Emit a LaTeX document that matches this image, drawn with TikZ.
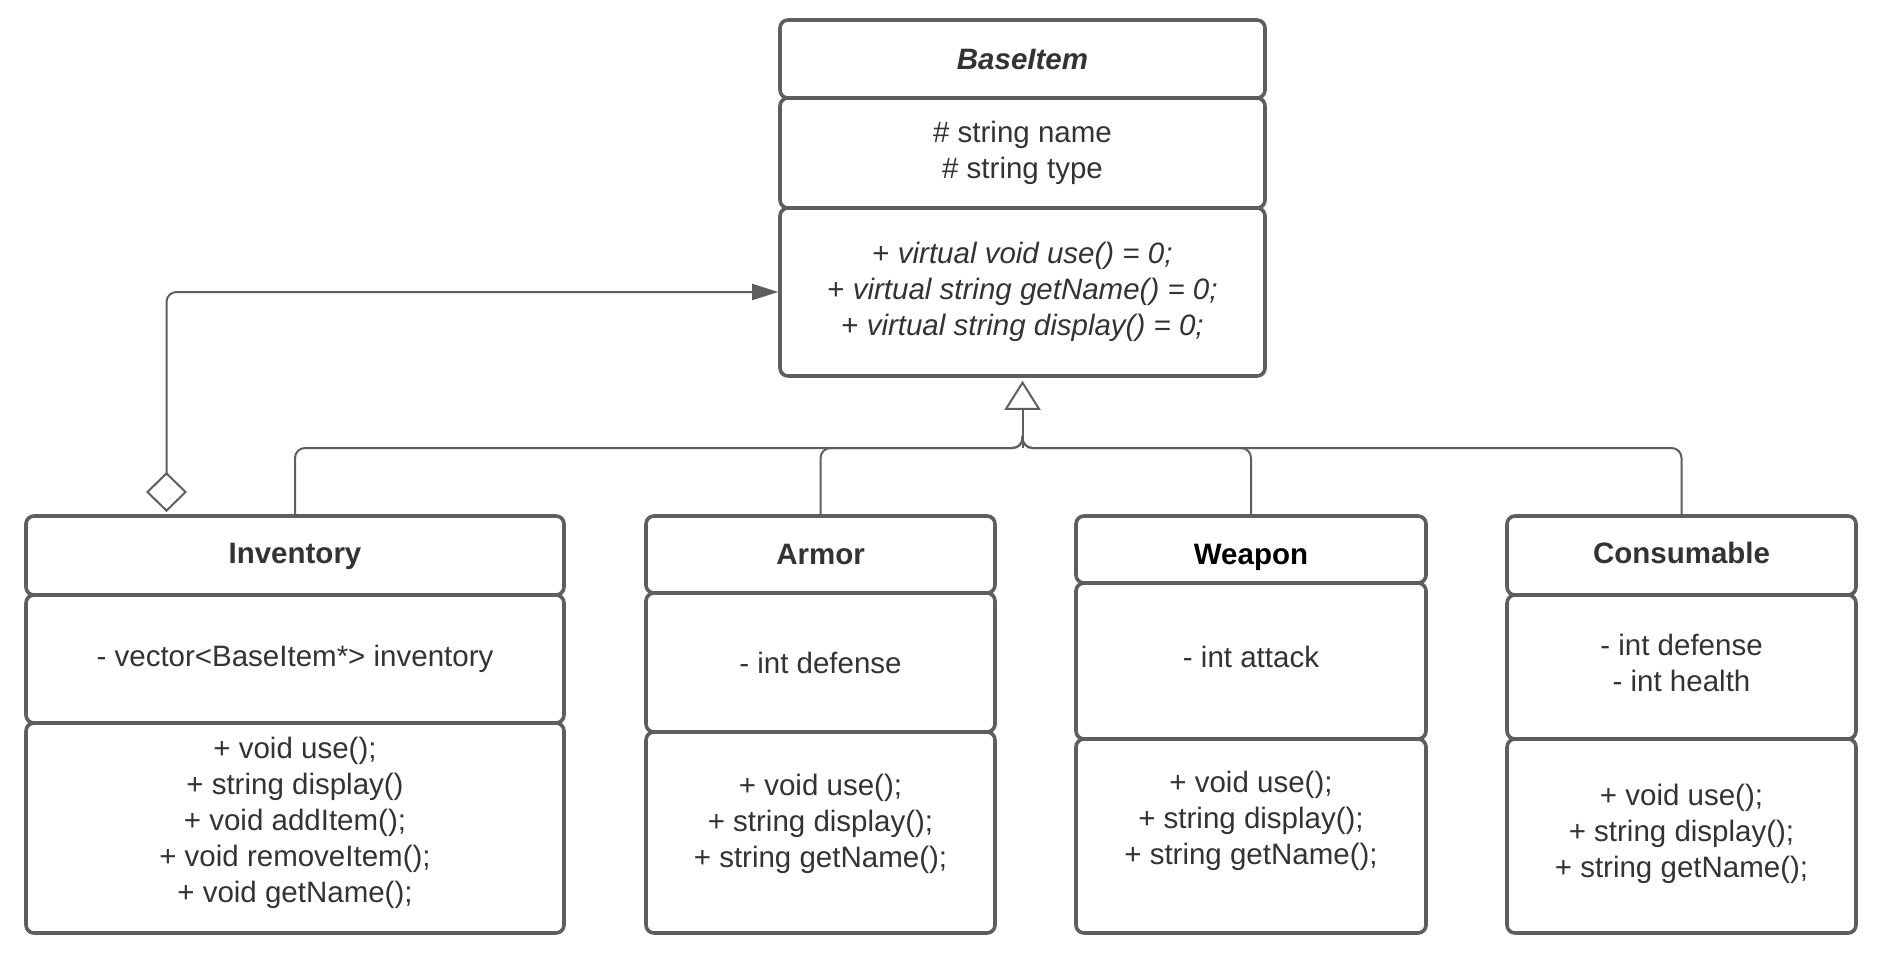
\documentclass[tikz,border=0pt]{standalone}
\usepackage{fontspec}
\setmainfont{Liberation Sans}
\usetikzlibrary{arrows.meta}
\definecolor{umlline}{HTML}{5E5E5E}
\definecolor{umltext}{HTML}{333333}
% deepen the last line so a centred block sits higher in its box
\newcommand{\umllift}[1]{\rule[-#1]{0pt}{#1}}

\begin{document}
\begin{tikzpicture}[x=0.5pt,y=-0.5pt,
    part/.style 2 args={draw=umlline,line width=1.8pt,rounded corners=4pt,fill=white,
        minimum width=#1*0.5pt,minimum height=#2*0.5pt,inner sep=0pt,align=center,
        text=umltext,font=\fontsize{14.75}{18}\selectfont},
    title/.style={font=\fontsize{14.75}{18}\selectfont\bfseries,text height=10.6pt,text depth=3pt},
    link/.style={draw=umlline,line width=1pt}]
    \useasboundingbox (0,0) rectangle (1878,958);

    % abstract base class
    \node[part={485}{78},title,text height=13pt,font=\fontsize{14.75}{18}\selectfont\bfseries\itshape] (base) at (1022.5,59) {BaseItem};
    \node[part={485}{110}] (baseattr) at (1022.5,153) {\# string name\\\# string type};
    \node[part={485}{168}] (baseops) at (1022.5,292)
        {+ \textit{virtual void use() = 0;}\\+ \textit{virtual string getName() = 0;}\\+ \textit{virtual string display() = 0;}};

    % derived classes
    \node[part={538}{79},title] (inv) at (295,555.5) {Inventory};
    \node[part={538}{128}] (invattr) at (295,659) {- vector<BaseItem*> inventory};
    \node[part={538}{210}] (invops) at (295,828)
        {+ void use();\\+ string display()\\+ void addItem();\\+ void removeItem();\\+ void getName();\umllift{8.4pt}};

    \node[part={349}{77},title,text height=12.6pt] (armor) at (820.5,554.5) {Armor};
    \node[part={349}{139}] (armorattr) at (820.5,662.5) {- int defense};
    \node[part={349}{201}] (armorops) at (820.5,832.5)
        {+ void use();\\+ string display();\\+ string getName();\umllift{11.5pt}};

    \node[part={350}{67},title,text height=17.6pt,text=black] (weapon) at (1251,549.5) {Weapon};
    \node[part={350}{156}] (weaponattr) at (1251,661) {- int attack\umllift{4pt}};
    \node[part={350}{194}] (weaponops) at (1251,836)
        {+ void use();\\+ string display();\\+ string getName();\umllift{18pt}};

    \node[part={349}{79},title] (cons) at (1681.5,555.5) {Consumable};
    \node[part={349}{144}] (consattr) at (1681.5,667) {- int defense\\- int health\umllift{4pt}};
    \node[part={349}{194}] (consops) at (1681.5,836)
        {+ void use();\\+ string display();\\+ string getName();\umllift{5pt}};

    % inheritance
    \coordinate (split) at (1022.5,448);
    \draw[link,-{Triangle[open,length=14.5pt,width=18pt]},shorten >=1.5pt] (split) -- (baseops.south);
    \foreach \c in {inv,armor,weapon,cons}{
        \draw[link,rounded corners=5pt] (\c.north) |- (split) -- ++(0,-12);
    }

    % aggregation
    \coordinate (aggfoot) at (166.5,512);
    \draw[link,{Diamond[open,length=20pt,width=20.5pt]}-{Triangle[length=13pt,width=8pt]},rounded corners=5pt]
        (aggfoot) |- (baseops.west);
\end{tikzpicture}
\end{document}
